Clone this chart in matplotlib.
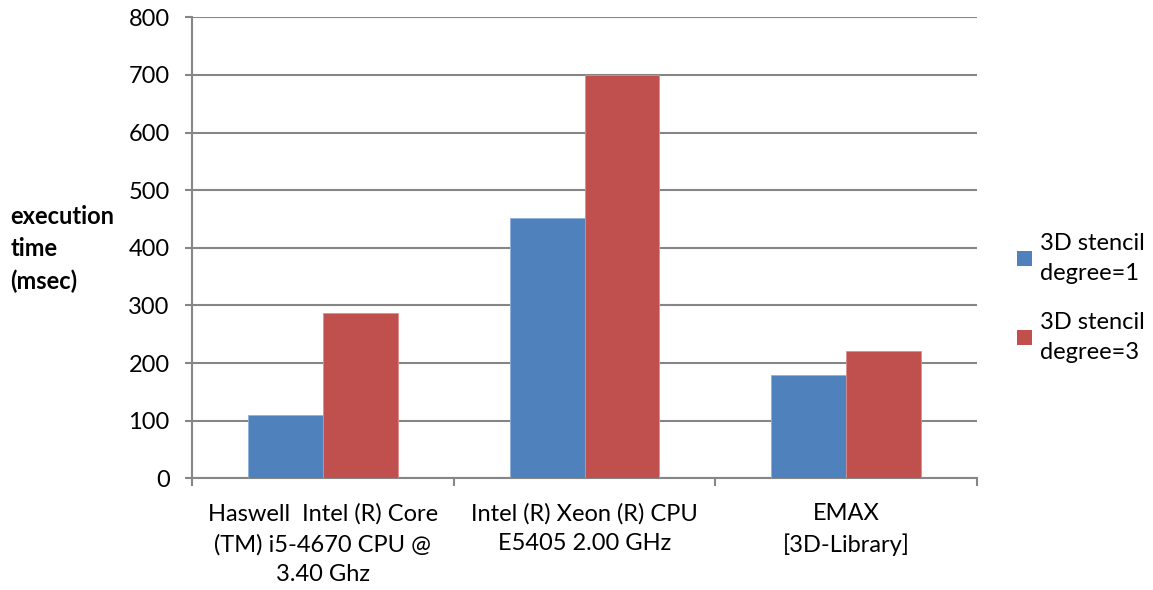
import matplotlib
matplotlib.use("Agg")
import matplotlib.pyplot as plt
import numpy as np
from matplotlib.patches import Patch

categories = ["Haswell  Intel (R) Core\n(TM) i5-4670 CPU @\n3.40 Ghz",
              "Intel (R) Xeon (R) CPU\nE5405 2.00 GHz",
              "EMAX\n[3D-Library]"]
series_names = ["3D stencil\ndegree=1", "3D stencil\ndegree=3"]
deg1 = [109, 452, 179]
deg3 = [287, 700, 221]
yticks = [0, 100, 200, 300, 400, 500, 600, 700, 800]

FS = 17
LS = 1.5
plt.rcParams['font.family'] = ['Lato', 'DejaVu Sans']
fig = plt.figure(figsize=(11.53, 5.90), dpi=100)
ax = fig.add_axes([0.1665, 0.1893, 0.6809, 0.7814])

x = np.arange(len(categories))
w = 0.286
grey = "#868686"
ax.bar(x - w/2, deg1, w, color="#4F81BD", edgecolor="#8DB0DA", linewidth=0.6, zorder=3, label=series_names[0])
ax.bar(x + w/2, deg3, w, color="#C0504D", edgecolor="#DB8E8C", linewidth=0.6, zorder=3, label=series_names[1])

ax.set_xlim(-0.5, len(categories) - 0.5)
ax.set_ylim(0, 800)
ax.set_yticks(yticks)
ax.set_yticklabels([str(t) for t in yticks], fontsize=FS)
ax.yaxis.grid(True, color=grey, linewidth=1.5, zorder=0)
ax.set_axisbelow(True)

ax.set_xticks(x)
ax.set_xticklabels(categories, fontsize=FS, linespacing=LS)
ax.tick_params(axis='x', length=0, pad=18)
ax.set_xticks(np.arange(-0.5, len(categories), 1.0), minor=True)
ax.tick_params(axis='x', which='minor', length=6, width=1.5, color=grey)
ax.tick_params(axis='y', length=5, width=1.5, color=grey, pad=11)

for s in ['top', 'right']:
    ax.spines[s].set_visible(False)
for s in ['left', 'bottom']:
    ax.spines[s].set_color(grey)
    ax.spines[s].set_linewidth(1.5)

fig.text(0.009, 0.578, "execution\ntime\n(msec)", fontsize=FS, fontweight='bold',
         ha='left', va='center', linespacing=LS)

handles = [Patch(facecolor="#4F81BD"), Patch(facecolor="#C0504D")]
leg = fig.legend(handles, series_names, loc='center left', bbox_to_anchor=(0.864, 0.495),
                 frameon=False, fontsize=FS, handlelength=0.6, handleheight=0.6,
                 handletextpad=0.35, labelspacing=1.2)
for t in leg.get_texts():
    t.set_linespacing(LS)

fig.savefig("out.png", dpi=100)
